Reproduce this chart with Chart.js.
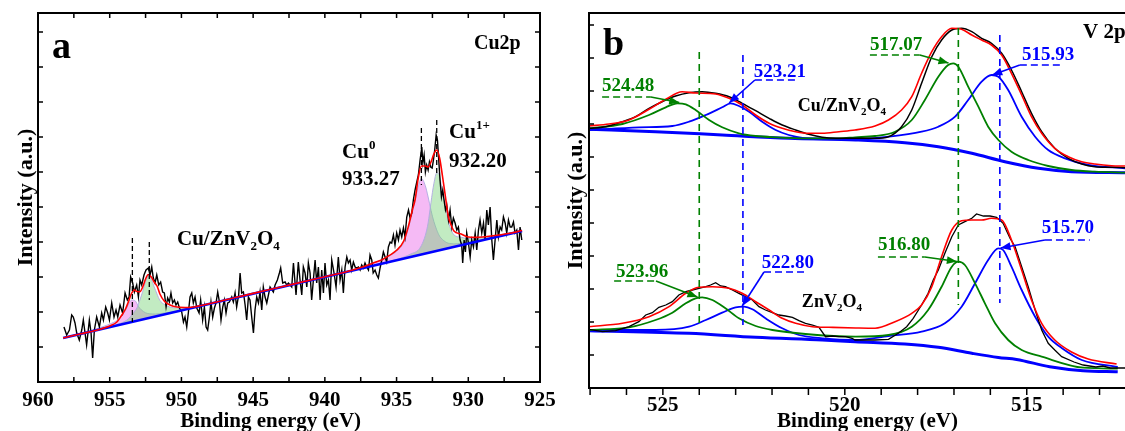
<!DOCTYPE html>
<html>
<head>
<meta charset="utf-8">
<script src="https://cdn.jsdelivr.net/npm/chart.js@4.4.1/dist/chart.umd.min.js"></script>
<style>
  html, body { margin: 0; padding: 0; background: #fff; overflow: hidden; }
  #wrap { position: relative; width: 1125px; height: 431px; overflow: hidden; }
  canvas { position: absolute; top: 0; }
  #cuChart { left: 0; }
  #vChart { left: 560px; }
</style>
</head>
<body>
<div id="wrap">
  <canvas id="cuChart" width="560" height="431"></canvas>
  <canvas id="vChart" width="565" height="431"></canvas>
</div>
<script>
const SERIF = "'Liberation Serif', 'Times New Roman', serif";
Chart.defaults.font.family = SERIF;
Chart.defaults.color = '#000';

// ---------- panel a : Cu 2p ----------
const cuTickLabels = [960, 955, 950, 945, 940, 935, 930, 925];
const cuPeaks = [933.27, 932.20];

// raw spectrum (noisy)
const cuRawE = [958.19,958.00,957.81,957.65,957.54,957.42,957.30,957.12,956.95,956.84,
  956.72,956.61,956.42,956.30,956.19,956.07,955.91,955.72,955.56,955.44,
  955.28,955.14,955.02,954.86,954.70,954.56,954.44,954.28,954.10,953.93,
  953.77,953.65,953.54,953.40,953.28,953.12,953.00,952.89,952.77,952.61,
  952.47,952.30,952.19,952.07,951.96,951.84,951.72,951.58,951.45,951.31,
  951.19,951.07,950.96,950.84,950.73,950.61,950.49,950.38,950.26,950.14,
  949.98,949.86,949.75,949.63,949.52,949.40,949.28,949.17,949.05,948.93,
  948.77,948.66,948.52,948.40,948.28,948.17,948.05,947.94,947.82,947.70,
  947.59,947.47,947.35,947.24,947.12,947.01,946.89,946.77,946.66,946.49,
  946.38,946.26,946.15,946.01,945.91,945.80,945.68,945.56,945.45,945.33,
  945.22,945.10,944.98,944.87,944.75,944.63,944.52,944.40,944.29,944.17,
  944.05,943.82,943.59,943.47,943.31,943.17,943.08,942.94,942.77,942.66,
  942.54,942.31,942.19,942.01,941.85,941.73,941.61,941.50,941.38,941.26,941.15,
  941.03,940.92,940.80,940.68,940.57,940.45,940.33,940.22,940.10,939.99,
  939.87,939.75,939.64,939.52,939.36,939.22,939.06,938.94,938.82,938.71,
  938.59,938.47,938.36,938.24,938.13,938.01,937.89,937.78,937.66,937.54,
  937.43,937.31,937.20,937.08,936.96,936.85,936.73,936.63,936.50,936.38,
  936.27,936.15,936.03,935.92,935.80,935.69,935.57,935.45,935.34,935.22,
  935.11,934.99,934.87,934.76,934.64,934.52,934.41,934.29,934.17,934.06,
  933.94,933.83,933.71,933.59,933.48,933.36,933.24,933.17,933.08,932.99,
  932.90,932.80,932.71,932.62,932.52,932.43,932.34,932.24,932.15,932.06,
  931.97,931.87,931.78,931.69,931.59,931.50,931.38,931.27,931.15,931.04,
  930.92,930.80,930.69,930.57,930.46,930.39,930.29,930.20,930.11,929.99,
  929.87,929.76,929.64,929.52,929.41,929.29,929.18,929.06,928.94,928.83,
  928.71,928.60,928.48,928.36,928.25,928.13,928.01,927.90,927.78,927.67,
  927.55,927.43,927.32,927.20,927.08,926.97,926.85,926.74,926.62,926.50,
  926.39,926.27];
const cuRawI = [55,47,52,67,65,59,49,42,52,62,
  49,37,62,49,24,52,65,55,69,62,
  75,69,62,79,65,72,65,77,69,89,
  82,85,105,99,90,97,85,102,97,107,
  112,114,107,115,104,99,107,97,100,90,
  89,75,84,80,89,79,82,77,80,74,
  70,60,65,55,69,85,89,79,85,74,
  69,82,62,75,55,52,65,80,65,74,
  79,90,80,62,75,82,69,79,80,85,
  80,89,75,87,109,89,90,77,62,85,
  82,65,49,72,85,79,90,72,95,85,
  79,95,90,97,102,109,114,99,100,97,
  99,95,119,87,120,102,87,115,109,95,119,
  109,82,102,122,99,115,82,112,89,119,
  97,102,82,122,109,95,125,102,112,89,
  115,125,119,122,112,120,115,114,115,112,
  117,114,119,115,112,127,122,109,112,107,
  104,114,122,130,125,120,135,140,139,147,
  137,149,142,152,145,154,145,165,172,164,
  169,182,192,200,207,222,235,219,227,210,
  217,212,220,215,214,222,232,247,242,222,
  202,185,192,182,172,177,162,172,155,164,
  159,152,155,142,137,119,142,130,149,139,
  125,142,135,149,132,152,162,149,159,142,
  172,157,175,142,122,142,162,145,155,152,
  165,159,149,162,155,155,160,149,152,132,
  155,142];

// fitted envelope
const cuFitE = [958.25,957,956,955.5,955,954.5,954.2,953.9,953.7,953.5,
  953.28,953.1,952.9,952.7,952.5,952.31,952.1,951.9,951.7,951.5,
  951.2,950.8,950.3,949.5,949,946,944,942,940,938.5,
  937.5,936.5,936,935.5,935,934.5,934.2,933.9,933.7,933.5,
  933.27,933.0,932.8,932.6,932.4,932.2,932.0,931.8,931.6,931.4,
  931.2,931.0,930.5,930,929.5,929,928,927,926.25];
const cuFitI = [44,48.2,51.5,53.5,56,60,66,73,80,88,
  92,90.5,90.3,95,103,107.5,105,100,96,88,
  81,77,75,74.5,75.4,85.3,92,98.6,105.3,110.3,
  114.4,119.7,122.4,126.6,131.7,141,154.4,172,183,203,
  216,216,215,220,228,232,224,206,186,166,
  157,151,148,145,144.6,145,146.7,149,151.5];

// background
const cuBgE = [958.25, 926.25];
const cuBgI = [44, 151];

// components: Cu0 (pink) and Cu1+ (green), 2p3/2 and 2p1/2
const cu0E = [937.5,936.5,936,935.5,935,934.5,934.2,933.9,933.7,933.5,933.27,933.0,932.8,932.6,
  932.4,932.2,932.0,931.8,931.6,931.4,931.2,931.0,930.5,930,929.5,929,928];
const cu0I = [114.4,119.7,122.4,126.1,130.7,139.4,152.4,169.4,182.1,194.7,203.5,196.4,185,171.7,
  160.5,152.1,145.8,142.5,140.2,138.8,138.4,138.1,138.8,140,141.1,142.3,145.2];
const cu1E = [935.5,935,934.5,934,933.5,933.27,933.0,932.8,932.6,932.4,932.2,932.0,931.8,931.6,
  931.4,931.2,931.0,930.5,930,929.5,929,928,927,926.25];
const cu1I = [120.6,122.7,124.9,128.1,131.7,136.5,146.4,159.1,179.7,198.4,209.1,205.8,188.4,177.1,
  160.8,152.4,147.1,144.8,143.5,143.6,144.3,146.7,149.5,151.5];
const cu0bE = [956.5,955.5,955,954.5,954.2,953.9,953.7,953.47,953.2,953.0,952.8,952.5,952.2,951.8,951.3,950.5];
const cu0bI = [50.4,55.2,57.9,61.5,65.5,71.5,77.2,82,80.8,75.5,72.2,69.2,68.2,68,68.7,70.4];
const cu1bE = [954.5,954,953.7,953.4,953.1,952.9,952.7,952.5,952.31,952.1,951.9,951.7,951.5,951.2,950.8,950.3,949.5,949];
const cu1bI = [57.5,60.2,63.2,68.2,74.2,81.9,90.6,100.2,105.9,102.6,95.2,87.9,81.6,77.6,74.9,74.1,74.4,75.4];

// dashed peak markers
const cuMarkE = [953.42, 952.24, 933.27, 932.20];
const cuMarkTop = [144, 140, 254, 262];
const cuMarkBot = [60, 82, 197, 209];

// ---------- panel b : V 2p ----------
const vTickLabels = [525, 520, 515];
const vPeaks = [524.48, 523.21, 517.07, 515.93, 523.96, 522.80, 516.80, 515.70];

// Cu/ZnV2O4 (upper)
const upRawE = [527.03,526.57,526.11,525.75,525.38,525.02,524.65,524.28,523.92,523.55,
  523.18,522.82,522.45,522.08,521.72,521.35,520.99,520.62,520.25,519.70,
  519.17,518.80,518.44,518.16,517.89,517.61,517.34,517.06,516.79,516.51,
  516.24,515.97,515.69,515.42,515.14,514.87,514.59,514.23,513.86,513.49,
  513.13,512.67,512.30];
const upRawI = [259.7,261.3,266.3,271.3,279.7,286.3,292,295.3,296.3,294.7,
  291.3,284.7,277.3,269.7,263,258,253.7,250.7,249.7,249.7,
  249.7,251.3,261.3,278,304.7,331.3,348,358,359.7,356.3,
  349.7,344.7,334.7,318,296.3,274.7,256.3,239.7,229.7,224,
  221.3,220.7,220.3];
const upFitE = [527.03,526.48,525.93,525.38,524.92,524.47,524.10,523.55,523.18,522.82,
  522.45,522.08,521.72,521.35,520.99,520.62,520.16,519.72,519.17,518.80,
  518.44,518.16,517.89,517.61,517.34,517.06,516.79,516.51,516.24,515.97,
  515.69,515.42,515.14,514.87,514.59,514.23,513.86,513.49,513.13,512.67,512.30];
const upFitI = [262,264,268,278.7,288.7,296.3,295,294,289.7,283,
  273,264.7,259.7,256.3,254.7,254.7,256.3,258,262,268,
  278,291.3,314.7,336.3,351.3,359.7,358.7,353,348,343,
  333,314.7,293,271.3,254.7,239.7,231.3,226.3,224,222.3,222];
const upGreenE = [527.03,526.11,525.38,524.92,524.60,524.37,524.10,523.73,523.37,522.91,
  522.45,521.90,521.08,520.16,519.72,519.17,518.62,518.16,517.80,517.43,
  517.16,517.02,516.88,516.61,516.33,516.06,515.78,515.42,514.96,514.41,
  513.77,513.13,512.30];
const upGreenI = [259.7,264,273,280.7,284.7,283.7,278,268,260.7,254.7,
  252,250.7,249.7,249.7,250.7,252,256.3,268,288,311.3,
  323,324.7,321.3,301.3,281.3,261.3,248,236.3,228,222,
  218,216.3,215.3];
const upBlueE = [527.03,525.66,524.74,524.28,523.82,523.37,523.14,522.91,522.63,522.27,
  521.90,521.54,521.08,520.62,519.70,518.80,517.89,517.43,516.97,516.61,
  516.24,515.97,515.78,515.51,515.14,514.77,514.41,513.95,513.31,512.30];
const upBlueI = [258,260.7,262,266.3,273,280.7,284.7,282,276.3,266.3,
  258,253,249.7,248.7,248.7,251.3,256.3,261.3,271.3,288,
  306.3,313,311.3,298,271.3,251.3,238,229.7,223,219.7];
const upBgE = [527.03,525.20,523.37,521.54,519.70,518.35,517.43,516.51,515.60,514.68,513.77,512.30];
const upBgI = [258.7,256.3,253,249.7,248,245.3,241.3,234.7,226.3,219.7,216.3,215.3];

// ZnV2O4 (lower)
const loRawE = [527.03,526.66,526.30,525.93,525.66,525.47,525.29,525.11,524.92,524.74,
  524.56,524.37,524.19,524.01,523.82,523.69,523.55,523.41,523.28,523.09,
  522.91,522.73,522.54,522.36,522.18,521.99,521.81,521.63,521.44,521.26,
  521.08,520.89,520.71,520.53,520.34,520.16,519.98,519.80,
  519.72,519.17,518.80,518.53,518.30,518.12,517.89,517.71,517.57,517.43,
  517.25,517.06,516.88,516.70,516.51,516.38,516.19,516.01,515.83,515.65,
  515.46,515.32,515.14,514.96,514.77,514.59,514.41,514.23,514.04,
  513.70,513.45,513.10,512.91,512.70,512.30];
const loRawI = [58.7,56.3,57.3,61.3,66.3,73,75.3,80.7,83,86.3,
  93,96.3,98,99.7,101.3,103,105.3,102,101.3,98,
  94.7,91.3,88,81.3,78,75.3,73,72,70.7,67.3,
  64.7,63,60.7,51.3,52,51.3,51.3,49.7,
  48,48,48.7,54.7,61.3,69.7,83,94.7,108,118,
  134.7,151.3,163,166.3,169.7,174,172,172,170.7,164.7,
  149.7,141.3,121.3,101.3,78,58,44.7,38,31.3,
  26,23,21,22,20,20];
const loFitE = [527.03,526.11,525.38,524.83,524.37,524.01,523.64,523.18,522.82,522.45,
  522.08,521.72,521.35,520.89,520.44,519.70,519.17,518.62,518.16,517.89,
  517.61,517.34,517.06,516.79,516.51,516.24,515.97,515.69,515.42,515.14,
  514.87,514.59,514.23,513.77,513.31,512.53];
const loFitI = [61.3,64.7,71.3,81.3,94.7,100.7,101.3,99.7,94.7,86.3,
  78,69.7,64.7,61.3,60.7,60,59.7,66.3,74.7,83,
  101.3,131.3,158,167.3,168,168,169.7,168,148,118,
  88,64.7,48,36,29,24];
const loGreenE = [527.03,525.93,525.20,524.74,524.37,524.10,523.92,523.64,523.28,522.91,
  522.45,521.99,521.08,519.70,518.80,518.16,517.71,517.34,517.06,516.88,
  516.70,516.42,516.15,515.87,515.51,515.14,514.59,513.45,512.5];
const loGreenI = [58,60.7,68,75.3,84.7,89.7,90.7,88,79.7,69.7,
  62,58,54,51.3,53,61.3,78,101.3,121.3,126.3,
  123,104.7,84.7,64.7,48,38,31.3,20.3,19.3];
const loBlueE = [527.03,525.20,524.28,523.82,523.37,523.00,522.77,522.54,522.18,521.72,
  521.26,520.62,519.70,518.80,517.89,517.25,516.79,516.42,516.06,515.78,
  515.65,515.42,515.14,514.77,514.41,514.04,513.49,512.5];
const loBlueI = [58,58,61.3,68,75.3,80.7,81.3,78.7,69.7,59.7,
  53,49.7,48,52,56.3,64.7,81.3,104.7,128,139.7,
  138,121.3,98,71.3,51.3,40,28,21];
const loBgE = [527.03,524.28,522.45,520.62,519.72,518.35,517.43,516.51,515.78,515.28,514.37,513.45,512.5];
const loBgI = [57.3,54.7,50.7,48,46.3,44,40.7,34.7,30.5,28.5,21.3,17.3,16.3];

// vertical dashed guides
const vGuideE = [524.0, 522.8, 516.88, 515.74];
const vGuideTop = [336, 333, 360, 353];
const vGuideBot = [63, 63, 83, 85];

const GREEN = '#008000', BLUE = '#0000ff', RED = '#ff0000';

// ---------- helpers ----------
function xy(es, is) { return es.map((e, i) => ({ x: e, y: is[i] })); }
function curve(es, is, color, width, extra) {
  return Object.assign({ data: xy(es, is), borderColor: color, borderWidth: width,
    pointRadius: 0, fill: false, tension: 0 }, extra || {});
}
function smooth(es, is, color, width, extra) {
  return curve(es, is, color, width, Object.assign({ cubicInterpolationMode: 'monotone' }, extra || {}));
}
function guide(e, top, bot, color, dash, width) {
  return curve([e, e], [top, bot], color, width, { borderDash: dash, order: -1 });
}

function richText(ctx, x, y, parts, size, color) {
  ctx.fillStyle = color;
  ctx.textAlign = 'left';
  ctx.textBaseline = 'alphabetic';
  parts.forEach(([s, pos]) => {
    const fs = pos ? Math.round(size * 0.62) : size;
    ctx.font = 'bold ' + fs + 'px ' + SERIF;
    const dy = pos < 0 ? size * 0.22 : (pos > 0 ? -size * 0.42 : 0);
    ctx.fillText(s, x, y + dy);
    x += ctx.measureText(s).width;
  });
}

function arrow(ctx, x1, y1, x2, y2, color) {
  ctx.setLineDash([]);
  ctx.strokeStyle = color;
  ctx.lineWidth = 1.6;
  ctx.beginPath(); ctx.moveTo(x1, y1); ctx.lineTo(x2, y2); ctx.stroke();
  const a = Math.atan2(y2 - y1, x2 - x1), L = 10, W = 4;
  ctx.beginPath();
  ctx.moveTo(x2, y2);
  ctx.lineTo(x2 - L * Math.cos(a) + W * Math.sin(a), y2 - L * Math.sin(a) - W * Math.cos(a));
  ctx.lineTo(x2 - L * Math.cos(a) - W * Math.sin(a), y2 - L * Math.sin(a) + W * Math.cos(a));
  ctx.closePath();
  ctx.fillStyle = color;
  ctx.fill();
}

// frame + tick marks drawn from the scales
const framePlugin = {
  id: 'frame',
  afterDatasetsDraw(chart, args, o) {
    const { ctx, chartArea: a, scales: { x, y } } = chart;
    ctx.save();
    ctx.strokeStyle = '#000';
    ctx.lineWidth = 1.5;
    ctx.beginPath();
    x.ticks.forEach(t => {
      const px = x.getPixelForValue(t.value);
      if (px < a.left + 1 || px > a.right - 1) return;
      ctx.moveTo(px, a.bottom);
      ctx.lineTo(px, o.xOut ? a.bottom + o.xLen : a.bottom - o.xLen);
      if (o.topTicks) { ctx.moveTo(px, a.top); ctx.lineTo(px, a.top + o.xLen); }
    });
    y.ticks.forEach(t => {
      const py = y.getPixelForValue(t.value);
      if (py > a.bottom - 1 || py < a.top + 1) return;
      ctx.moveTo(a.left, py); ctx.lineTo(a.left + o.yLen, py);
      if (o.right) { ctx.moveTo(a.right, py); ctx.lineTo(a.right - o.yLen, py); }
    });
    ctx.stroke();
    ctx.lineWidth = 2;
    ctx.beginPath();
    if (o.right) {
      ctx.rect(a.left, a.top, a.right - a.left, a.bottom - a.top);
    } else {
      ctx.moveTo(a.right + 2, a.top); ctx.lineTo(a.left, a.top);
      ctx.lineTo(a.left, a.bottom); ctx.lineTo(a.right + 2, a.bottom);
    }
    ctx.stroke();
    ctx.restore();
  }
};

// text labels, dashed underlines and arrows
const notesPlugin = {
  id: 'notes',
  afterDatasetsDraw(chart, args, o) {
    const { ctx, chartArea: a, scales: { x, y } } = chart;
    const P = (e, v) => [x.getPixelForValue(e), y.getPixelForValue(v)];
    ctx.save();
    (o.items || []).forEach(n => {
      const [tx, ty] = P(n.at[0], n.at[1]);
      richText(ctx, tx, ty, n.parts, n.size, n.color || '#000');
      if (n.under) {
        const [ux1, uy] = P(n.under[0], n.under[2]);
        const [ux2] = P(n.under[1], n.under[2]);
        ctx.setLineDash([7, 4]);
        ctx.strokeStyle = n.color;
        ctx.lineWidth = 1.6;
        ctx.beginPath(); ctx.moveTo(ux1, uy); ctx.lineTo(ux2, uy); ctx.stroke();
      }
      if (n.arrow) {
        const [ax1, ay1] = P(n.arrow[0], n.arrow[1]);
        const [ax2, ay2] = P(n.arrow[2], n.arrow[3]);
        arrow(ctx, ax1, ay1, ax2, ay2, n.color);
      }
    });
    (o.corner || []).forEach(c => {
      const cx = c.fromRight ? a.right - c.dx : a.left + c.dx;
      richText(ctx, cx, a.top + c.dy, [[c.text, 0]], c.size, '#000');
    });
    ctx.restore();
  }
};

function axes(o) {
  const isLabel = v => o.labels.some(l => Math.abs(l - v) < 1e-6);
  return {
    x: {
      type: 'linear', reverse: true, min: o.min, max: o.max,
      afterFit: s => { s.height = o.xh; },
      grid: { display: false }, border: { display: false },
      ticks: { stepSize: o.step, autoSkip: false, maxRotation: 0, includeBounds: false,
        padding: o.pad, font: { size: 21, weight: 'bold' },
        callback: v => isLabel(v) ? String(Math.round(v)) : '' },
      title: { display: true, text: o.xTitle, font: { size: 21, weight: 'bold' },
        padding: { top: 0, bottom: -3 } }
    },
    y: {
      min: 0, max: o.ymax,
      afterFit: s => { s.width = o.yw; },
      grid: { display: false }, border: { display: false },
      ticks: { display: false, stepSize: o.ystep, includeBounds: false },
      title: { display: true, text: 'Intensity (a.u.)', font: { size: 22, weight: 'bold' },
        padding: { top: o.ytp, bottom: 0 } }
    }
  };
}

const PINK_FILL = 'rgba(235,110,235,0.48)';
const GREEN_FILL = 'rgba(120,210,120,0.45)';
const COMP_EDGE = 'rgba(175,170,225,0.9)';
const NBSP = '\u00a0';

// ---------- chart a ----------
new Chart(document.getElementById('cuChart'), {
  type: 'line',
  data: {
    datasets: [
      smooth(cuFitE, cuFitI, RED, 1.6, { order: 1 }),
      curve(cuBgE, cuBgI, BLUE, 2.6, { order: 2 }),
      curve(cuRawE, cuRawI, '#000', 1.4, { order: 3 }),
      smooth(cu0E, cu0I, COMP_EDGE, 1, { fill: 1, backgroundColor: PINK_FILL, order: 5 }),
      smooth(cu1E, cu1I, COMP_EDGE, 1, { fill: 1, backgroundColor: GREEN_FILL, order: 4 }),
      smooth(cu0bE, cu0bI, COMP_EDGE, 1, { fill: 1, backgroundColor: PINK_FILL, order: 5 }),
      smooth(cu1bE, cu1bI, COMP_EDGE, 1, { fill: 1, backgroundColor: GREEN_FILL, order: 4 }),
      ...cuMarkE.map((e, i) => guide(e, cuMarkTop[i], cuMarkBot[i], '#000', [5, 3], 1.3))
    ]
  },
  options: {
    responsive: false, animation: false, devicePixelRatio: 1, events: [],
    layout: { padding: { top: 13, right: 20, left: 0, bottom: 0 }, autoPadding: false },
    plugins: {
      legend: { display: false }, tooltip: { enabled: false },
      frame: { xOut: false, xLen: 5, yLen: 5, topTicks: true, right: true },
      notes: {
        items: [
          { parts: [['Cu/ZnV', 0], ['2', -1], ['O', 0], ['4', -1]], at: [950.31, 137], size: 21 },
          { parts: [['Cu', 0], ['0', 1]], at: [938.80, 224], size: 21 },
          { parts: [[cuPeaks[0].toFixed(2), 0]], at: [938.80, 197], size: 21 },
          { parts: [['Cu', 0], ['1+', 1]], at: [931.34, 244], size: 21 },
          { parts: [[cuPeaks[1].toFixed(2), 0]], at: [931.34, 215], size: 21 }
        ],
        corner: [
          { text: 'a', dx: 14, dy: 45, size: 38 },
          { text: 'Cu2p', dx: 66, dy: 36, size: 20, fromRight: true }
        ]
      }
    },
    scales: axes({ min: 925, max: 960, step: 2.5, labels: cuTickLabels, pad: -2, xh: 49,
      ymax: 369, ystep: 35, yw: 38, ytp: 13,
      xTitle: 'Binding energy (eV)' + NBSP.repeat(7) })
  },
  plugins: [framePlugin, notesPlugin]
});

// ---------- chart b ----------
function vNote(i, color, at, under, arrowTo) {
  return { parts: [[vPeaks[i].toFixed(2), 0]], at, size: 19, color,
    under, arrow: [under[arrowTo[2] ? 0 : 1], under[2], arrowTo[0], arrowTo[1]] };
}

new Chart(document.getElementById('vChart'), {
  type: 'line',
  data: {
    datasets: [
      smooth(upFitE, upFitI, RED, 1.6, { order: 0 }),
      smooth(upRawE, upRawI, '#000', 1.5, { order: 1 }),
      smooth(upGreenE, upGreenI, GREEN, 1.8, { order: 2 }),
      smooth(upBlueE, upBlueI, BLUE, 1.8, { order: 3 }),
      smooth(upBgE, upBgI, BLUE, 3, { order: 4 }),
      smooth(loFitE, loFitI, RED, 1.6, { order: 0 }),
      curve(loRawE, loRawI, '#000', 1.3, { order: 1 }),
      smooth(loGreenE, loGreenI, GREEN, 1.8, { order: 2 }),
      smooth(loBlueE, loBlueI, BLUE, 1.8, { order: 3 }),
      smooth(loBgE, loBgI, BLUE, 3, { order: 4 }),
      guide(vGuideE[0], vGuideTop[0], vGuideBot[0], GREEN, [7, 5], 1.6),
      guide(vGuideE[1], vGuideTop[1], vGuideBot[1], BLUE, [7, 5], 1.6),
      guide(vGuideE[2], vGuideTop[2], vGuideBot[2], GREEN, [7, 5], 1.6),
      guide(vGuideE[3], vGuideTop[3], vGuideBot[3], BLUE, [7, 5], 1.6)
    ]
  },
  options: {
    responsive: false, animation: false, devicePixelRatio: 1, events: [],
    layout: { padding: { top: 13, right: 0, left: 0, bottom: 0 }, autoPadding: false },
    plugins: {
      legend: { display: false }, tooltip: { enabled: false },
      frame: { xOut: true, xLen: 7, yLen: 5, topTicks: false, right: false },
      notes: {
        items: [
          vNote(0, GREEN, [526.67, 297], [526.67, 525.33, 291], [524.55, 285.5, false]),
          vNote(1, BLUE, [522.50, 311], [522.47, 521.26, 308], [523.18, 285, true]),
          vNote(2, GREEN, [519.31, 338], [519.31, 517.94, 333], [517.15, 325, false]),
          vNote(3, BLUE, [515.13, 328], [515.19, 514.09, 323], [515.95, 313, true]),
          vNote(4, GREEN, [526.29, 111], [526.34, 525.19, 107], [524.05, 91, false]),
          vNote(5, BLUE, [522.28, 120], [522.22, 521.10, 116], [522.82, 82, true]),
          vNote(6, GREEN, [519.09, 138], [519.09, 517.80, 131], [516.92, 126.5, false]),
          vNote(7, BLUE, [514.59, 155], [514.50, 513.27, 148], [515.72, 140, true]),
          { parts: [['Cu/ZnV', 0], ['2', -1], ['O', 0], ['4', -1]], at: [521.29, 277], size: 18 },
          { parts: [['ZnV', 0], ['2', -1], ['O', 0], ['4', -1]], at: [521.18, 81], size: 18 }
        ],
        corner: [
          { text: 'b', dx: 14, dy: 42, size: 38 },
          { text: 'V 2p', dx: 494, dy: 25, size: 21 }
        ]
      }
    },
    scales: axes({ min: 512.3, max: 527.03, step: 1, labels: vTickLabels, pad: -3, xh: 43,
      ymax: 375, ystep: 33, yw: 29, ytp: 3,
      xTitle: NBSP.repeat(4) + 'Binding energy (eV)' })
  },
  plugins: [framePlugin, notesPlugin]
});
</script>
</body>
</html>
